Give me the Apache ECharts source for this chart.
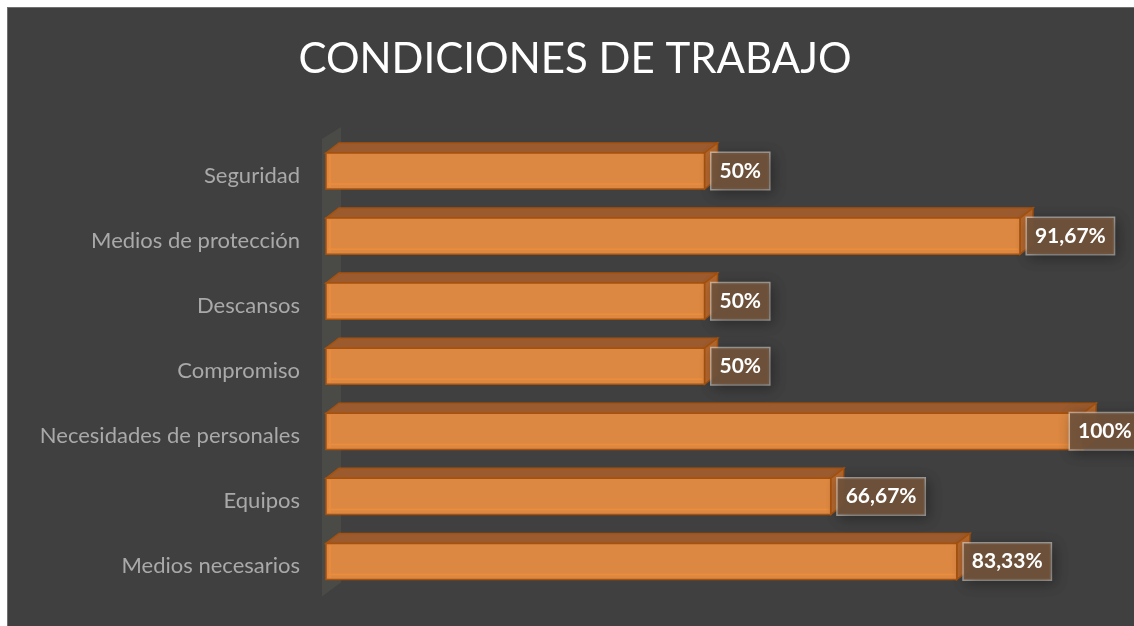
<!DOCTYPE html>
<html>
<head>
    <meta charset="utf-8">
    <title>Condiciones de trabajo</title>
    <style>
        html, body { margin: 0; padding: 0; background: #ffffff; overflow: hidden; }
        #main {
            position: absolute; left: 7px; top: 7px;
            width: 1134px; height: 626px;
            border: 1px solid #707070; background: #404040;
        }
    </style>
</head>
<body>
<script src="https://cdn.jsdelivr.net/npm/echarts@6/dist/echarts.min.js" type="text/javascript" charset="utf-8"></script>
<div id="main"></div>
<script type="text/javascript">
    // datos del gráfico (de arriba a abajo)
    var categorias = ['Seguridad', 'Medios de protección', 'Descansos', 'Compromiso',
        'Necesidades de personales', 'Equipos', 'Medios necesarios'];
    var valores = [50, 91.67, 50, 50, 100, 66.67, 83.33];
    var etiquetas = ['50%', '91,67%', '50%', '50%', '100%', '66,67%', '83,33%'];

    var fuente = 'Lato, "Open Sans", sans-serif';
    var dx = 13, dy = -10;   // profundidad 3D

    var datos = valores.map(function (v, i) { return [v, categorias[i], etiquetas[i]]; });

    function barra3d(params, api) {
        var c = api.value(1);
        var p0 = api.coord([0, c]);
        var p1 = api.coord([api.value(0), c]);
        var h = api.size([0, 1])[1] * 0.555;
        var x0 = p0[0], x1 = p1[0];
        var y0 = p1[1] - h / 2, y1 = p1[1] + h / 2;
        var borde = '#a5520f';
        var texto = etiquetas[params.dataIndex];
        var anchoCaja = texto.length * 12.5 + 16;
        var lx = Math.min(x1 + 7, api.getWidth() - anchoCaja - 6);
        return {
            type: 'group',
            children: [
                { type: 'polygon', shape: { points: [[x0, y0], [x0 + dx, y0 + dy], [x1 + dx, y0 + dy], [x1, y0]] },
                  style: { fill: '#9c5b2e', stroke: borde, lineWidth: 1.5 } },
                { type: 'polygon', shape: { points: [[x1, y0], [x1 + dx, y0 + dy], [x1 + dx, y1 + dy], [x1, y1]] },
                  style: { fill: '#b4682f', stroke: borde, lineWidth: 1.5 } },
                { type: 'rect', shape: { x: x0, y: y0, width: x1 - x0, height: h },
                  style: { fill: '#dc8843', stroke: borde, lineWidth: 1.5 } },
                { type: 'line', shape: { x1: x0 + 2, y1: y1 - 5, x2: x1 - 2, y2: y1 - 5 },
                  style: { stroke: '#ec8d3b', lineWidth: 1.5 } },
                { type: 'line', shape: { x1: x0 + 4, y1: y0 + 2, x2: x0 + 4, y2: y1 - 2 },
                  style: { stroke: '#ec8d3b', lineWidth: 1.5 } },
                { type: 'text', x: lx, y: p1[1],
                  style: {
                      text: texto, fill: '#ffffff', font: 'bold 21px ' + fuente,
                      verticalAlign: 'middle', align: 'left',
                      backgroundColor: 'rgba(112,82,58,0.95)',
                      borderColor: 'rgba(230,225,220,0.6)', borderWidth: 1.5,
                      padding: [8, 8, 7, 8],
                      shadowColor: 'rgba(0,0,0,0.35)', shadowBlur: 14, shadowOffsetX: 3, shadowOffsetY: 3
                  },
                  z2: 10 }
            ]
        };
    }

    function pared(params, api) {
        var top = api.coord([0, categorias[0]]);
        var bot = api.coord([0, categorias[categorias.length - 1]]);
        var h = api.size([0, 1])[1] * 0.555;
        var x = top[0];
        return {
            type: 'polygon',
            shape: { points: [
                [x - 4, top[1] - h / 2 - 14], [x + 15, top[1] - h / 2 - 26],
                [x + 15, bot[1] + h / 2 + 3], [x - 4, bot[1] + h / 2 + 17]
            ] },
            style: { fill: '#4a4a47' }
        };
    }

    var myChart = echarts.init(document.getElementById('main'));
    var option = {
        backgroundColor: '#404040',
        animation: false,
        title: {
            text: 'CONDICIONES DE TRABAJO',
            left: 'center',
            top: 25,
            textStyle: { color: '#ffffff', fontSize: 42, fontWeight: 'normal', fontFamily: fuente }
        },
        grid: { left: 318, width: 757, top: 130.5, height: 455.5 },
        xAxis: {
            type: 'value', min: 0, max: 100,
            show: false
        },
        yAxis: {
            type: 'category',
            data: categorias,
            inverse: true,
            axisLine: { show: false },
            axisTick: { show: false },
            splitLine: { show: false },
            axisLabel: {
                color: '#a9a9a9', fontSize: 22, fontFamily: fuente, margin: 26,
                verticalAlign: 'top', lineHeight: 9
            }
        },
        series: [
            {
                type: 'custom',
                renderItem: pared,
                data: [[0, categorias[0]]],
                silent: true
            },
            {
                type: 'custom',
                renderItem: barra3d,
                encode: { x: 0, y: 1 },
                data: datos
            }
        ]
    };
    myChart.setOption(option);
</script>
</body>
</html>
